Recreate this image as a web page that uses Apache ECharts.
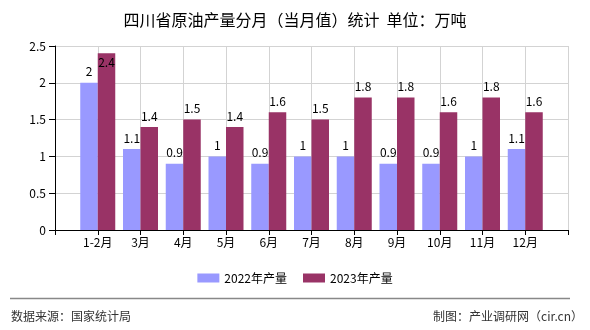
<!DOCTYPE html>
<html>
<head>
<meta charset="utf-8">
<script src="https://cdn.jsdelivr.net/npm/echarts@6/dist/echarts.min.js"></script>
<style>
html,body{margin:0;padding:0;background:#fff;}
#chart{width:590px;height:330px;}
</style>
</head>
<body>
<div id="chart"></div>
<script>
// ---- data ----
var titleText = '四川省原油产量分月（当月值）统计  单位：万吨';
var categories = ['1-2月','3月','4月','5月','6月','7月','8月','9月','10月','11月','12月'];
var seriesNames = ['2022年产量','2023年产量'];
var values2022 = [2, 1.1, 0.9, 1, 0.9, 1, 1, 0.9, 0.9, 1, 1.1];
var values2023 = [2.4, 1.4, 1.5, 1.4, 1.6, 1.5, 1.8, 1.8, 1.6, 1.8, 1.6];
var yTicks = [0, 0.5, 1, 1.5, 2, 2.5];
var sourceText = '数据来源：国家统计局';
var creditText = '制图：产业调研网（cir.cn）';

// ---- build ----
var FONT = '"Noto Sans CJK SC", "Noto Sans", sans-serif';
var yMax = yTicks[yTicks.length - 1];
var axisData = [''].concat(categories).concat(['']);
function pad(arr) {
  var out = ['-'];
  arr.forEach(function (v) {
    // labels that would leave the plot top are drawn inside the bar
    if (v > yMax - 0.2) out.push({ value: v, label: { position: 'insideTop', distance: 3 } });
    else out.push(v);
  });
  out.push('-');
  return out;
}

var chart = echarts.init(document.getElementById('chart'), null, { renderer: 'canvas' });
var labelStyle = { show: true, position: 'top', distance: 5, color: '#000', fontSize: 12, fontFamily: FONT };
chart.setOption({
  animation: false,
  backgroundColor: '#fff',
  textStyle: { fontFamily: FONT },
  title: {
    text: titleText,
    left: 'center',
    top: 7,
    textStyle: { fontSize: 16, fontWeight: 'normal', color: '#000', fontFamily: FONT }
  },
  legend: {
    data: seriesNames,
    left: 'center',
    top: 267,
    itemWidth: 22,
    itemHeight: 9,
    itemGap: 16,
    textStyle: { fontSize: 12, color: '#000', fontFamily: FONT },
    icon: 'rect'
  },
  grid: { left: 55, right: 22, top: 46, height: 184, containLabel: false },
  xAxis: {
    type: 'category',
    data: axisData,
    boundaryGap: false,
    axisLine: { show: true, lineStyle: { color: '#000', width: 1 } },
    axisTick: { show: true, length: 5, lineStyle: { color: '#000' } },
    axisLabel: { color: '#000', fontSize: 12, margin: 6, interval: 0, fontFamily: FONT },
    splitLine: { show: true, lineStyle: { color: '#d3d3d3', width: 1 } }
  },
  yAxis: {
    type: 'value',
    min: yTicks[0],
    max: yMax,
    interval: yTicks[1] - yTicks[0],
    axisLine: { show: true, lineStyle: { color: '#000', width: 1 } },
    axisTick: { show: true, length: 6, lineStyle: { color: '#000' } },
    axisLabel: { color: '#000', fontSize: 12, margin: 9, fontFamily: FONT },
    splitLine: { show: true, lineStyle: { color: '#d3d3d3', width: 1 } }
  },
  series: [
    {
      name: seriesNames[0],
      type: 'bar',
      data: pad(values2022),
      barWidth: 17.5,
      barGap: '0%',
      itemStyle: { color: '#9999FF' },
      label: labelStyle
    },
    {
      name: seriesNames[1],
      type: 'bar',
      data: pad(values2023),
      barWidth: 17.5,
      barGap: '0%',
      itemStyle: { color: '#993366' },
      label: labelStyle
    }
  ],
  graphic: [
    { type: 'line', shape: { x1: 10, y1: 298.5, x2: 570, y2: 298.5 }, style: { stroke: '#888', lineWidth: 1.5 } },
    { type: 'text', left: 11, top: 310, style: { text: sourceText, fontSize: 12, fill: '#333', fontFamily: FONT } },
    { type: 'text', right: 7, top: 310, style: { text: creditText, fontSize: 12, fill: '#333', fontFamily: FONT } }
  ]
});
</script>
</body>
</html>
